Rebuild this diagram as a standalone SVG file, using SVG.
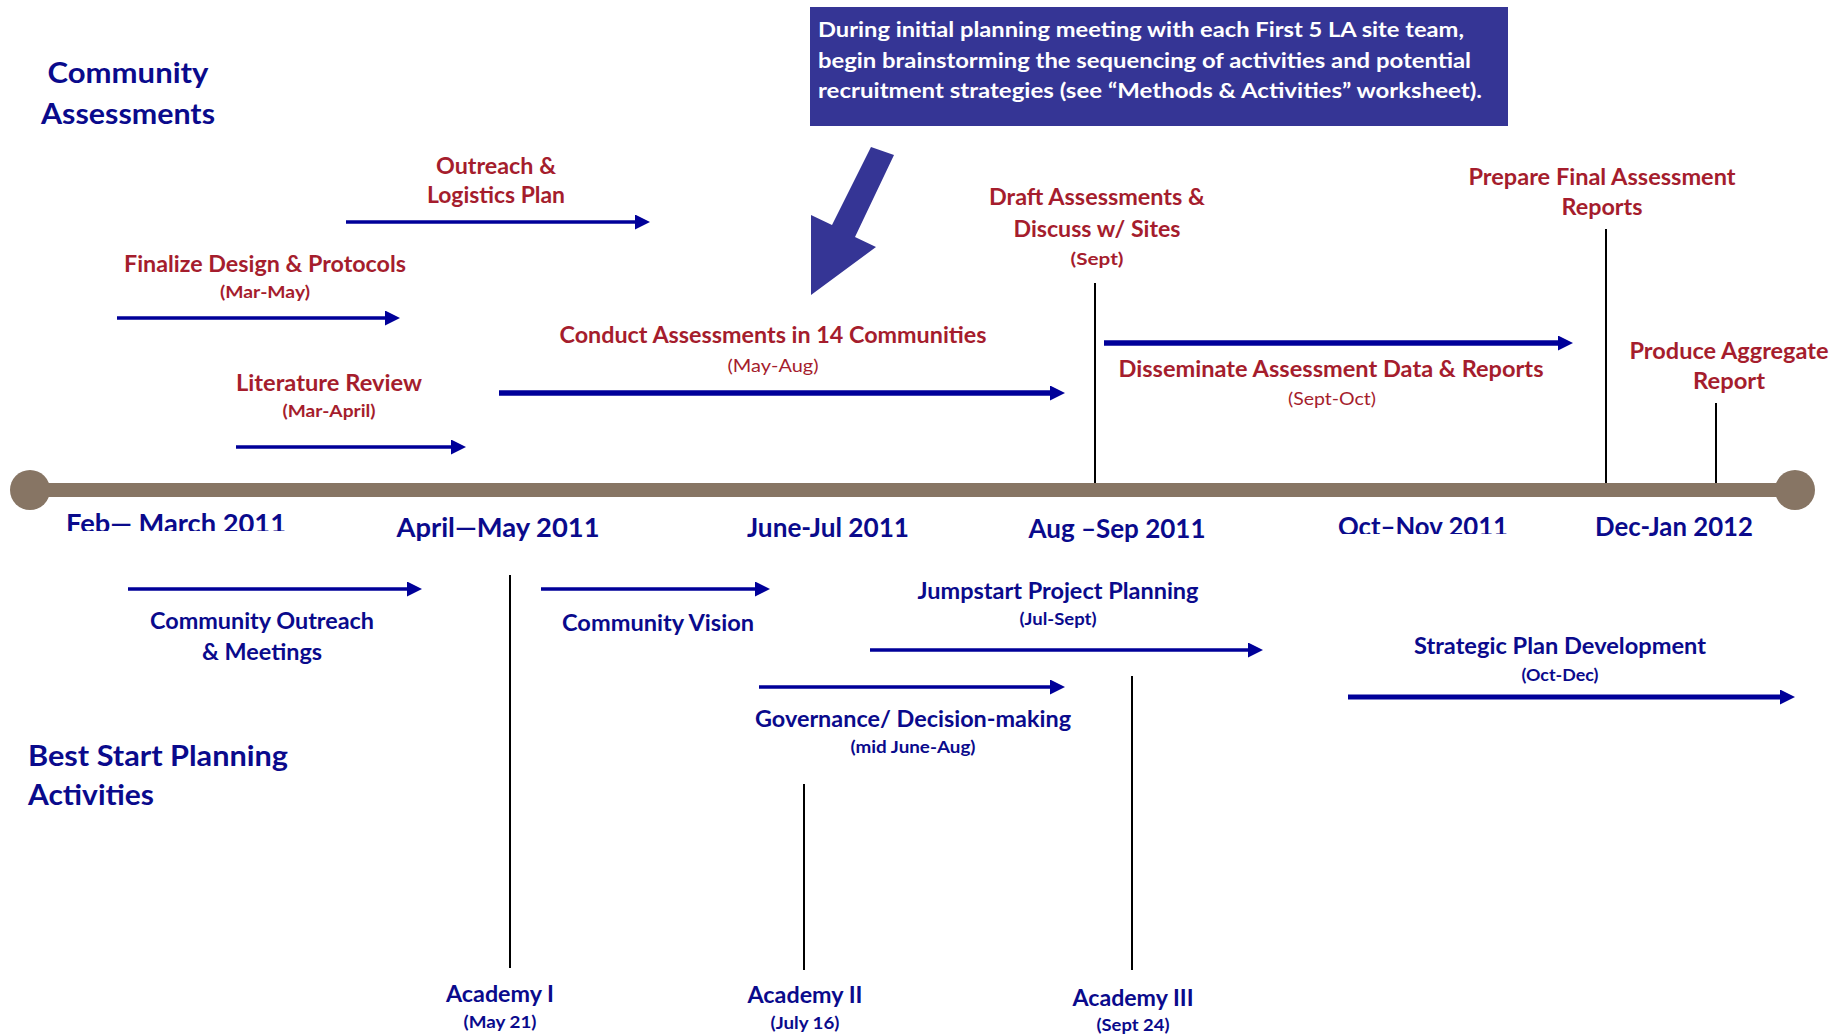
<svg xmlns="http://www.w3.org/2000/svg" width="1847" height="1036" viewBox="0 0 1847 1036">
  <style>
    text { font-family: Lato, "Open Sans", "Liberation Sans", sans-serif; font-weight: 700; }
    .red { fill: #a51d2d; }
    .blue { fill: #0a0a8c; }
    .white { fill: #ffffff; }
    .mid { text-anchor: middle; }
    .head { font-size: 28px; }
    .date { font-size: 26px; }
    .lbl { font-size: 22px; }
    .sub { font-size: 17px; }
    .reg { font-weight: 400; }
    .call { font-size: 21px; }
    .arr { stroke: #000099; fill: none; }
    .thin { stroke-width: 3.3; }
    .thick { stroke-width: 5.5; }
    .tick { stroke: #000000; stroke-width: 2; }
  </style>
  <defs>
    <marker id="ah" viewBox="0 0 15 15" refX="0" refY="7.5" markerWidth="15" markerHeight="15" markerUnits="userSpaceOnUse" orient="auto">
      <path d="M0,0 L15,7.5 L0,15 z" fill="#000099"/>
    </marker>
    <clipPath id="clipFeb"><rect x="0" y="490" width="400" height="41"/></clipPath>
    <clipPath id="clipOct"><rect x="1300" y="490" width="260" height="44"/></clipPath>
  </defs>

  <rect x="0" y="0" width="1847" height="1036" fill="#ffffff"/>

  <!-- milestone ticks -->
  <g id="ticks">
    <line class="tick" x1="1095" y1="283" x2="1095" y2="489"/>
    <line class="tick" x1="1606" y1="229" x2="1606" y2="489"/>
    <line class="tick" x1="1716" y1="403" x2="1716" y2="489"/>
    <line class="tick" x1="510" y1="575" x2="510" y2="968"/>
    <line class="tick" x1="804" y1="784" x2="804" y2="970"/>
    <line class="tick" x1="1132" y1="676" x2="1132" y2="970"/>
  </g>

  <!-- time axis -->
  <g id="axis">
    <rect x="30" y="483" width="1765" height="14" fill="#877564"/>
    <circle cx="30" cy="490" r="20" fill="#877564"/>
    <circle cx="1795" cy="490" r="20" fill="#877564"/>
  </g>

  <!-- duration arrows -->
  <g id="connectors">
    <line class="arr thin" x1="346" y1="222" x2="635" y2="222" marker-end="url(#ah)"/>
    <line class="arr thin" x1="117" y1="318" x2="385" y2="318" marker-end="url(#ah)"/>
    <line class="arr thin" x1="236" y1="447" x2="451" y2="447" marker-end="url(#ah)"/>
    <line class="arr thick" x1="499" y1="393" x2="1050" y2="393" marker-end="url(#ah)"/>
    <line class="arr thick" x1="1104" y1="343" x2="1558" y2="343" marker-end="url(#ah)"/>
    <line class="arr thin" x1="128" y1="589" x2="407" y2="589" marker-end="url(#ah)"/>
    <line class="arr thin" x1="541" y1="589" x2="755" y2="589" marker-end="url(#ah)"/>
    <line class="arr thin" x1="870" y1="650" x2="1248" y2="650" marker-end="url(#ah)"/>
    <line class="arr thin" x1="759" y1="687" x2="1050" y2="687" marker-end="url(#ah)"/>
    <line class="arr" stroke-width="5" x1="1348" y1="697" x2="1780" y2="697" marker-end="url(#ah)"/>
  </g>

  <!-- callout -->
  <g id="callout">
    <rect x="810" y="7" width="698" height="119" fill="#353595"/>
    <text class="white call" x="818" y="37" textLength="646" lengthAdjust="spacingAndGlyphs">During initial planning meeting with each First 5 LA site team,</text>
    <text class="white call" x="818" y="68" textLength="653" lengthAdjust="spacingAndGlyphs">begin brainstorming the sequencing of activities and potential</text>
    <text class="white call" x="818" y="98" textLength="664" lengthAdjust="spacingAndGlyphs">recruitment strategies (see “Methods &amp; Activities” worksheet).</text>
    <polygon points="871,147 894,155 855,237 876,247 811,295 811,215 832,225" fill="#353595"/>
  </g>

  <!-- section headings -->
  <g id="heading-assessments">
    <text class="blue head mid" x="128" y="83" textLength="161" lengthAdjust="spacingAndGlyphs">Community</text>
    <text class="blue head mid" x="128" y="124" textLength="174" lengthAdjust="spacingAndGlyphs">Assessments</text>
  </g>
  <g id="heading-planning">
    <text class="blue head" x="28" y="766" textLength="260" lengthAdjust="spacingAndGlyphs">Best Start Planning</text>
    <text class="blue head" x="28" y="805" textLength="126" lengthAdjust="spacingAndGlyphs">Activities</text>
  </g>

  <!-- assessment activities -->
  <g id="outreach-plan">
    <text class="red lbl mid" x="496" y="174" textLength="120" lengthAdjust="spacingAndGlyphs">Outreach &amp;</text>
    <text class="red lbl mid" x="496" y="203" textLength="138" lengthAdjust="spacingAndGlyphs">Logistics Plan</text>
  </g>
  <g id="finalize-design">
    <text class="red lbl mid" x="265" y="272" textLength="282" lengthAdjust="spacingAndGlyphs">Finalize Design &amp; Protocols</text>
    <text class="red sub mid" x="265" y="298" textLength="90" lengthAdjust="spacingAndGlyphs">(Mar-May)</text>
  </g>
  <g id="literature-review">
    <text class="red lbl mid" x="329" y="391" textLength="186" lengthAdjust="spacingAndGlyphs">Literature Review</text>
    <text class="red sub mid" x="329" y="417" textLength="93" lengthAdjust="spacingAndGlyphs">(Mar-April)</text>
  </g>
  <g id="conduct-assessments">
    <text class="red lbl mid" x="773" y="343" textLength="427" lengthAdjust="spacingAndGlyphs">Conduct Assessments in 14 Communities</text>
    <text class="red sub reg mid" x="773" y="372" textLength="91" lengthAdjust="spacingAndGlyphs">(May-Aug)</text>
  </g>
  <g id="draft-assessments">
    <text class="red lbl mid" x="1097" y="205" textLength="216" lengthAdjust="spacingAndGlyphs">Draft Assessments &amp;</text>
    <text class="red lbl mid" x="1097" y="237" textLength="167" lengthAdjust="spacingAndGlyphs">Discuss w/ Sites</text>
    <text class="red sub mid" x="1097" y="265" textLength="53" lengthAdjust="spacingAndGlyphs">(Sept)</text>
  </g>
  <g id="disseminate">
    <text class="red lbl mid" x="1331" y="377" textLength="425" lengthAdjust="spacingAndGlyphs">Disseminate Assessment Data &amp; Reports</text>
    <text class="red sub reg mid" x="1332" y="405" textLength="88" lengthAdjust="spacingAndGlyphs">(Sept-Oct)</text>
  </g>
  <g id="final-reports">
    <text class="red lbl mid" x="1602" y="185" textLength="267" lengthAdjust="spacingAndGlyphs">Prepare Final Assessment</text>
    <text class="red lbl mid" x="1602" y="215" textLength="81" lengthAdjust="spacingAndGlyphs">Reports</text>
  </g>
  <g id="aggregate-report">
    <text class="red lbl mid" x="1729" y="359" textLength="199" lengthAdjust="spacingAndGlyphs">Produce Aggregate</text>
    <text class="red lbl mid" x="1729" y="389" textLength="72" lengthAdjust="spacingAndGlyphs">Report</text>
  </g>

  <!-- period labels -->
  <g id="periods">
    <text class="blue date mid" x="176" y="533" textLength="220" lengthAdjust="spacingAndGlyphs" clip-path="url(#clipFeb)">Feb— March 2011</text>
    <text class="blue date mid" x="498" y="537" textLength="203" lengthAdjust="spacingAndGlyphs">April—May 2011</text>
    <text class="blue date mid" x="828" y="537" textLength="162" lengthAdjust="spacingAndGlyphs">June-Jul 2011</text>
    <text class="blue date mid" x="1117" y="538" textLength="177" lengthAdjust="spacingAndGlyphs">Aug –Sep 2011</text>
    <text class="blue date mid" x="1423" y="536" textLength="170" lengthAdjust="spacingAndGlyphs" clip-path="url(#clipOct)">Oct–Nov 2011</text>
    <text class="blue date mid" x="1674" y="536" textLength="158" lengthAdjust="spacingAndGlyphs">Dec-Jan 2012</text>
  </g>

  <!-- planning activities -->
  <g id="community-outreach">
    <text class="blue lbl mid" x="262" y="629" textLength="224" lengthAdjust="spacingAndGlyphs">Community Outreach</text>
    <text class="blue lbl mid" x="262" y="660" textLength="120" lengthAdjust="spacingAndGlyphs">&amp; Meetings</text>
  </g>
  <g id="community-vision">
    <text class="blue lbl mid" x="658" y="631" textLength="192" lengthAdjust="spacingAndGlyphs">Community Vision</text>
  </g>
  <g id="jumpstart">
    <text class="blue lbl mid" x="1058" y="599" textLength="281" lengthAdjust="spacingAndGlyphs">Jumpstart Project Planning</text>
    <text class="blue sub mid" x="1058" y="625" textLength="77" lengthAdjust="spacingAndGlyphs">(Jul-Sept)</text>
  </g>
  <g id="governance">
    <text class="blue lbl mid" x="913" y="727" textLength="316" lengthAdjust="spacingAndGlyphs">Governance/ Decision-making</text>
    <text class="blue sub mid" x="913" y="753" textLength="125" lengthAdjust="spacingAndGlyphs">(mid June-Aug)</text>
  </g>
  <g id="strategic-plan">
    <text class="blue lbl mid" x="1560" y="654" textLength="292" lengthAdjust="spacingAndGlyphs">Strategic Plan Development</text>
    <text class="blue sub mid" x="1560" y="681" textLength="77" lengthAdjust="spacingAndGlyphs">(Oct-Dec)</text>
  </g>
  <g id="academy-1">
    <text class="blue lbl mid" x="500" y="1002" textLength="108" lengthAdjust="spacingAndGlyphs">Academy I</text>
    <text class="blue sub mid" x="500" y="1028" textLength="73" lengthAdjust="spacingAndGlyphs">(May 21)</text>
  </g>
  <g id="academy-2">
    <text class="blue lbl mid" x="805" y="1003" textLength="115" lengthAdjust="spacingAndGlyphs">Academy II</text>
    <text class="blue sub mid" x="805" y="1029" textLength="69" lengthAdjust="spacingAndGlyphs">(July 16)</text>
  </g>
  <g id="academy-3">
    <text class="blue lbl mid" x="1133" y="1006" textLength="121" lengthAdjust="spacingAndGlyphs">Academy III</text>
    <text class="blue sub mid" x="1133" y="1031" textLength="73" lengthAdjust="spacingAndGlyphs">(Sept 24)</text>
  </g>
</svg>
